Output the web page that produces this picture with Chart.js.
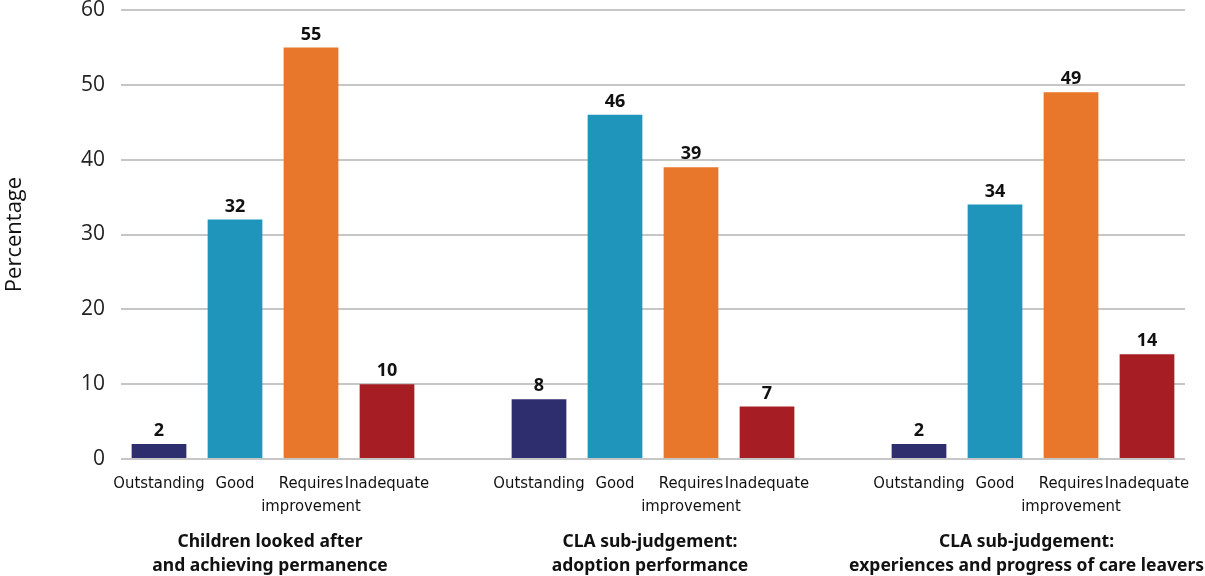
<!DOCTYPE html>
<html>
<head>
<meta charset="utf-8">
<script src="https://cdn.jsdelivr.net/npm/chart.js@4/dist/chart.umd.min.js"></script>
<style>
  html, body { margin: 0; padding: 0; background: #fff; }
  #wrap { width: 1205px; height: 576px; }
</style>
</head>
<body>
<div id="wrap"><canvas id="cla"></canvas></div>
<script>
// judgement labels under each bar ('' = spacer slot between groups)
const ratings = ['Outstanding', 'Good', ['Requires', 'improvement'], 'Inadequate', '',
                 'Outstanding', 'Good', ['Requires', 'improvement'], 'Inadequate', '',
                 'Outstanding', 'Good', ['Requires', 'improvement'], 'Inadequate'];
const percentages = [2, 32, 55, 10, null,
                     8, 46, 39, 7, null,
                     2, 34, 49, 14];
const groupTitles = [
  ['Children looked after', 'and achieving permanence'],
  ['CLA sub-judgement:', 'adoption performance'],
  ['CLA sub-judgement:', 'experiences and progress of care leavers']
];
const groupSlots = [[0, 3], [5, 8], [10, 13]];
const yTicks = [0, 10, 20, 30, 40, 50, 60];

// one colour per judgement
const palette = ['#2e2d6e', '#1f95bb', '#e8762b', '#a61e23'];
const barColours = percentages.map((v, i) => palette[i % 5] || 'transparent');

const valueLabels = {
  id: 'valueLabels',
  afterDatasetsDraw(chart) {
    const ctx = chart.ctx;
    const meta = chart.getDatasetMeta(0);
    ctx.save();
    ctx.font = 'bold 18px "Noto Sans"';
    ctx.fillStyle = '#111';
    ctx.textAlign = 'center';
    ctx.textBaseline = 'bottom';
    meta.data.forEach((bar, i) => {
      if (percentages[i] == null) return;
      ctx.fillText(percentages[i], bar.x, bar.y - 4);
    });
    ctx.restore();
  }
};

const groupLabels = {
  id: 'groupLabels',
  afterDraw(chart) {
    const ctx = chart.ctx;
    const x = chart.scales.x;
    const base = chart.chartArea.bottom;
    ctx.save();
    ctx.font = 'bold 17.5px "Noto Sans"';
    ctx.fillStyle = '#111';
    ctx.textAlign = 'center';
    ctx.textBaseline = 'alphabetic';
    groupTitles.forEach((lines, g) => {
      let cx = (x.getPixelForValue(groupSlots[g][0]) + x.getPixelForValue(groupSlots[g][1])) / 2 - 3;
      const w = Math.max(...lines.map(l => ctx.measureText(l).width));
      cx = Math.min(cx, chart.width - w / 2 - 1);
      lines.forEach((l, k) => ctx.fillText(l, cx, base + 88 + k * 24));
    });
    ctx.restore();
  }
};

new Chart(document.getElementById('cla'), {
  type: 'bar',
  data: {
    labels: ratings,
    datasets: [{
      data: percentages,
      backgroundColor: barColours,
      barPercentage: 0.72,
      categoryPercentage: 1.0
    }]
  },
  options: {
    responsive: true,
    maintainAspectRatio: false,
    animation: false,
    layout: { padding: { top: 0, right: 20, left: 0, bottom: 0 } },
    plugins: { legend: { display: false }, tooltip: { enabled: false } },
    scales: {
      x: {
        grid: { display: false },
        border: { display: false },
        ticks: {
          color: '#111',
          font: { family: '"DejaVu Sans Condensed"', size: 16.5, lineHeight: 1.4 },
          maxRotation: 0,
          autoSkip: false,
          padding: 5
        },
        afterFit(scale) { scale.height = 117; }
      },
      y: {
        min: 0,
        max: 60,
        afterBuildTicks(scale) { scale.ticks = yTicks.map(v => ({ value: v })); },
        grid: { color: '#c6c6c6', lineWidth: 2, drawTicks: false },
        border: { display: false },
        ticks: {
          color: '#222',
          font: { family: '"Open Sans"', size: 21 },
          padding: 16
        },
        title: {
          display: true,
          text: 'Percentage',
          color: '#111',
          font: { family: '"Open Sans"', size: 22 },
          padding: 2
        },
        afterFit(scale) {
          scale.width = 121;
          scale.paddingTop = 10;
        }
      }
    }
  },
  plugins: [valueLabels, groupLabels]
});
</script>
</body>
</html>
